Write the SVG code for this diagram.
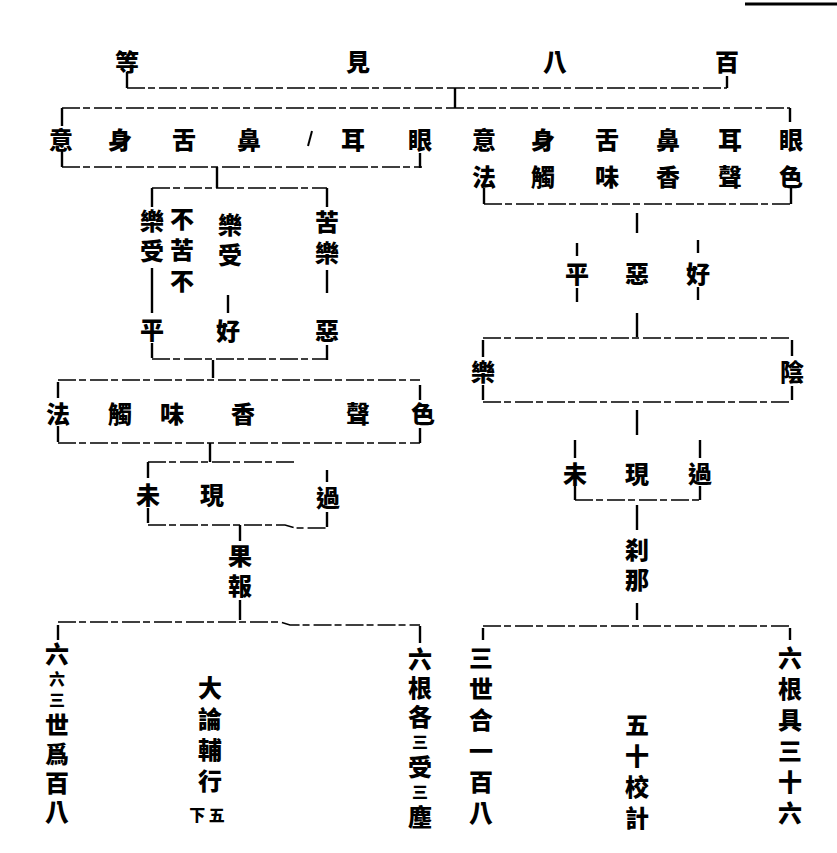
<svg xmlns="http://www.w3.org/2000/svg" width="837" height="853" viewBox="0 0 837 853">
<style>
text{font-family:"Noto Sans CJK TC","Noto Sans CJK SC",sans-serif;font-weight:900;font-size:24px;fill:#000;text-anchor:middle;dominant-baseline:central}
.v{writing-mode:vertical-rl;text-anchor:start;dominant-baseline:auto}
.s{font-size:16px}
.c path{fill:none;stroke:#000;stroke-width:2.4}
.c .h{stroke-width:1.6;stroke-dasharray:18 3 7 4}
</style>
<rect width="837" height="853" fill="#fff"/>
<g class="c" id="connectors">
<path d="M745,4 H837" style="stroke-width:3"/>
<path class="h" d="M127,88 H727"/>
<path d="M127,72 V88 M727,76 V88 M455,88 V108"/>
<path class="h" d="M62,108 H790"/>
<path d="M62,108 V126 M790,108 V122"/>
<path d="M312,131 L308,146" style="stroke-width:2"/>
<path d="M62,151 V167 M420,153 V168 M217,167 V188"/>
<path class="h" d="M62,167 H422"/>
<path class="h" d="M152,188 H327"/>
<path d="M152,188 V207 M327,188 V207"/>
<path d="M152,268 V313 M152,343 V358 M228,295 V313 M327,270 V293 M327,345 V360"/>
<path class="h" d="M152,359 H327"/>
<path d="M213,360 V378"/>
<path class="h" d="M58,380 H420"/>
<path d="M58,382 V398 M58,426 V442 M420,385 V400 M420,428 V443"/>
<path class="h" d="M58,443 H420"/>
<path d="M210,443 V462"/>
<path class="h" d="M148,462 H295"/>
<path d="M148,462 V478 M148,508 V523 M327,470 V482 M327,512 V527"/>
<path class="h" d="M148,525 H285 L295,528 H327"/>
<path d="M240,525 V541 M240,600 V620"/>
<path class="h" d="M58,622 H280 L290,625 H420"/>
<path d="M58,625 V640 M420,626 V643"/>
<path d="M484,188 V204 M791,188 V204"/>
<path class="h" d="M484,204 H791"/>
<path d="M637,213 V233 M577,243 V256 M577,288 V302 M698,240 V253 M698,287 V300 M637,313 V337"/>
<path class="h" d="M483,338 H792"/>
<path d="M483,340 V357 M483,385 V400 M792,340 V356 M792,386 V400"/>
<path class="h" d="M483,402 H792"/>
<path d="M637,410 V435 M575,440 V458 M575,486 V500 M700,440 V458 M700,486 V500"/>
<path class="h" d="M575,500 H700"/>
<path d="M637,505 V530 M637,603 V620"/>
<path class="h" d="M483,626 H790"/>
<path d="M483,628 V640 M790,628 V640"/>
</g>
<g id="title"><text x="127" y="60">等</text><text x="358" y="60">見</text><text x="555" y="60">八</text><text x="727" y="60">百</text></g>
<g id="roots-left"><text x="61" y="138">意</text><text x="120" y="138">身</text><text x="184" y="138">舌</text><text x="249" y="138">鼻</text><text x="353" y="138">耳</text><text x="420" y="138">眼</text></g>
<g id="pair-mind"><text x="484" y="138">意</text><text x="484" y="175">法</text></g>
<g id="pair-body"><text x="543" y="138">身</text><text x="543" y="175">觸</text></g>
<g id="pair-tongue"><text x="607" y="138">舌</text><text x="607" y="175">味</text></g>
<g id="pair-nose"><text x="668" y="138">鼻</text><text x="668" y="175">香</text></g>
<g id="pair-ear"><text x="730" y="138">耳</text><text x="730" y="175">聲</text></g>
<g id="pair-eye"><text x="791" y="138">眼</text><text x="791" y="175">色</text></g>
<g id="neutral-feeling"><text class="v" x="182" y="207" letter-spacing="7">不苦不</text><text class="v" x="152" y="209" letter-spacing="6">樂受</text></g>
<g id="pleasant-feeling"><text class="v" x="230" y="213" letter-spacing="6">樂受</text></g>
<g id="painful-feeling"><text class="v" x="327" y="210" letter-spacing="7">苦樂</text></g>
<g id="left-ping"><text x="152" y="328">平</text></g>
<g id="left-hao"><text x="228" y="329">好</text></g>
<g id="left-e"><text x="327" y="329">惡</text></g>
<g id="dusts-left"><text x="58" y="412">法</text><text x="120" y="412">觸</text><text x="172" y="412">味</text><text x="243" y="412">香</text><text x="358" y="412">聲</text><text x="423" y="412">色</text></g>
<g id="left-times"><text x="148" y="493">未</text><text x="212" y="493">現</text><text x="328" y="496">過</text></g>
<g id="fruit"><text class="v" x="240" y="544" letter-spacing="6">果報</text></g>
<g id="note-left"><text class="v" x="57" y="642" letter-spacing="5">六<tspan class="s">六三</tspan>世爲百八</text></g>
<g id="note-source"><text class="v" x="210" y="676" letter-spacing="7">大論輔行</text><text class="s" x="207" y="814">下 五</text></g>
<g id="note-right-left"><text class="v" x="420" y="647" letter-spacing="5">六根各<tspan class="s">三</tspan>受<tspan class="s">三</tspan>塵</text></g>
<g id="right-feelings"><text x="577" y="272">平</text><text x="637" y="272">惡</text><text x="698" y="272">好</text></g>
<g id="right-le"><text x="483" y="370">樂</text></g>
<g id="right-yin"><text x="792" y="370">陰</text></g>
<g id="right-times"><text x="575" y="472">未</text><text x="637" y="472">現</text><text x="700" y="472">過</text></g>
<g id="kshana"><text class="v" x="637" y="538" letter-spacing="6">刹那</text></g>
<g id="note-sanshi"><text class="v" x="481" y="646" letter-spacing="7">三世合一百八</text></g>
<g id="note-jiaoji"><text class="v" x="637" y="713" letter-spacing="7">五十校計</text></g>
<g id="note-right"><text class="v" x="790" y="646" letter-spacing="7">六根具三十六</text></g>
</svg>
